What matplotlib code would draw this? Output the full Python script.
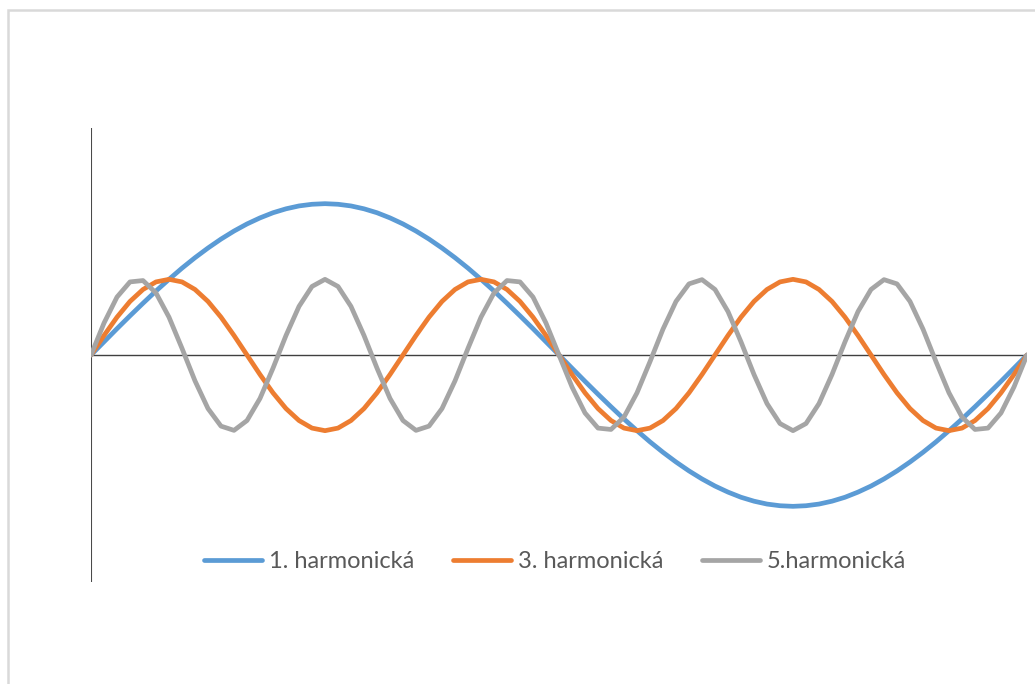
import matplotlib.pyplot as plt
from matplotlib.patches import Rectangle

# Angle in degrees, sampled every 5 degrees over one full period
angles = list(range(0, 361, 5))

h1 = [0.000, 0.087, 0.174, 0.259, 0.342, 0.423, 0.500, 0.574, 0.643, 0.707,
      0.766, 0.819, 0.866, 0.906, 0.940, 0.966, 0.985, 0.996, 1.000, 0.996,
      0.985, 0.966, 0.940, 0.906, 0.866, 0.819, 0.766, 0.707, 0.643, 0.574,
      0.500, 0.423, 0.342, 0.259, 0.174, 0.087, 0.000, -0.087, -0.174, -0.259,
      -0.342, -0.423, -0.500, -0.574, -0.643, -0.707, -0.766, -0.819, -0.866, -0.906,
      -0.940, -0.966, -0.985, -0.996, -1.000, -0.996, -0.985, -0.966, -0.940, -0.906,
      -0.866, -0.819, -0.766, -0.707, -0.643, -0.574, -0.500, -0.423, -0.342, -0.259,
      -0.174, -0.087, 0.000]

h3 = [0.000, 0.129, 0.250, 0.354, 0.433, 0.483, 0.500, 0.483, 0.433, 0.354,
      0.250, 0.129, 0.000, -0.129, -0.250, -0.354, -0.433, -0.483, -0.500, -0.483,
      -0.433, -0.354, -0.250, -0.129, 0.000, 0.129, 0.250, 0.354, 0.433, 0.483,
      0.500, 0.483, 0.433, 0.354, 0.250, 0.129, 0.000, -0.129, -0.250, -0.354,
      -0.433, -0.483, -0.500, -0.483, -0.433, -0.354, -0.250, -0.129, 0.000, 0.129,
      0.250, 0.354, 0.433, 0.483, 0.500, 0.483, 0.433, 0.354, 0.250, 0.129,
      0.000, -0.129, -0.250, -0.354, -0.433, -0.483, -0.500, -0.483, -0.433, -0.354,
      -0.250, -0.129, 0.000]

h5 = [0.000, 0.211, 0.383, 0.483, 0.492, 0.410, 0.250, 0.044, -0.171, -0.354,
      -0.470, -0.498, -0.433, -0.287, -0.087, 0.129, 0.321, 0.453, 0.500, 0.453,
      0.321, 0.129, -0.087, -0.287, -0.433, -0.498, -0.470, -0.354, -0.171, 0.044,
      0.250, 0.410, 0.492, 0.483, 0.383, 0.211, 0.000, -0.211, -0.383, -0.483,
      -0.492, -0.410, -0.250, -0.044, 0.171, 0.354, 0.470, 0.498, 0.433, 0.287,
      0.087, -0.129, -0.321, -0.453, -0.500, -0.453, -0.321, -0.129, 0.087, 0.287,
      0.433, 0.498, 0.470, 0.354, 0.171, -0.044, -0.250, -0.410, -0.492, -0.483,
      -0.383, -0.211, 0.000]

labels = ["1. harmonická", "3. harmonická", "5.harmonická"]
colors = ["#5B9BD5", "#ED7D31", "#A5A5A5"]
TEXT = "#595959"

plt.rcParams["font.family"] = ["Lato", "DejaVu Sans"]

fig = plt.figure(figsize=(10.35, 6.84), dpi=100)
W, H = 1035, 684

# chart area frame (runs off the right and bottom edges)
fig.patches.append(Rectangle((7.5 / W, -0.1), 1.2, (H - 10.5) / H + 0.1,
                             transform=fig.transFigure, fill=False,
                             edgecolor="#D9D9D9", linewidth=1.8))

ax = fig.add_axes([91 / W, (H - 582) / H, 936 / W, 454 / H])
ax.set_xlim(angles[0], angles[-1])
ax.set_ylim(-1.5, 1.5)
for s in ax.spines.values():
    s.set_visible(False)
ax.set_xticks([])
ax.set_yticks([])

ax.axvline(angles[0], color="#4A4A4A", linewidth=1.5, zorder=1)
ax.axhline(0, color="#404040", linewidth=1.0, zorder=1)

for vals, lab, c in zip([h1, h3, h5], labels, colors):
    ax.plot(angles, vals, color=c, linewidth=3.4, label=lab,
            solid_capstyle="round", solid_joinstyle="round", zorder=2)

leg = ax.legend(loc="center", bbox_to_anchor=(555 / W, (H - 562) / H),
                bbox_transform=fig.transFigure, ncol=3, frameon=False,
                fontsize=17, handlelength=2.45, handletextpad=0.3,
                columnspacing=1.65, labelcolor=TEXT)

fig.savefig("out.png", dpi=100)
